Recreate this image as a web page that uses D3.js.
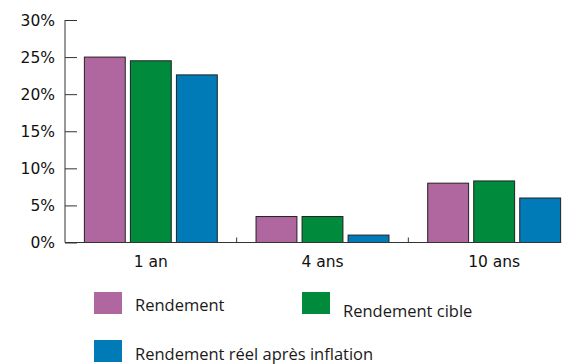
<!DOCTYPE html>
<html>
<head>
<meta charset="utf-8">
<script src="https://cdn.jsdelivr.net/npm/d3@7"></script>
<style>
  html, body { margin: 0; padding: 0; background: #fff; }
  svg { display: block; }
  .axis-label { font-family: "DejaVu Sans", sans-serif; font-size: 15.5px; fill: #111; }
  .legend-label { font-family: "Open Sans", "Noto Sans", sans-serif; font-size: 16.5px; fill: #1a1a1a; }
</style>
</head>
<body>
<svg id="chart" width="569" height="364"></svg>
<script>
// Horizons de placement et rendements (%)
const categories = ["1 an", "4 ans", "10 ans"];
const seriesNames = ["Rendement", "Rendement cible", "Rendement réel après inflation"];
const rendement = [25.0, 3.5, 8.0];
const rendementCible = [24.5, 3.5, 8.3];
const rendementReel = [22.6, 1.0, 6.0];
const seriesColors = ["#b0669e", "#008a3b", "#007bb8"];
const yTicks = [0, 5, 10, 15, 20, 25, 30];

const series = [rendement, rendementCible, rendementReel];

const svg = d3.select("#chart");
const x0 = 65, x1 = 580, yTop = 20, yBase = 242.5;

const x = d3.scaleBand().domain(categories).range([x0, x1]).paddingInner(0).paddingOuter(0);
const xs = d3.scaleBand().domain(d3.range(series.length)).range([0, x.bandwidth()])
  .paddingInner(0.09).paddingOuter(0.41);
const y = d3.scaleLinear().domain([0, 30]).range([yBase, yTop]);

const axisColor = "#333";

// Barres
categories.forEach((c, ci) => {
  series.forEach((s, si) => {
    svg.append("rect")
      .attr("x", x(c) + xs(si) + 0.5)
      .attr("y", y(s[ci]))
      .attr("width", xs.bandwidth() - 1)
      .attr("height", yBase - y(s[ci]))
      .attr("fill", seriesColors[si])
      .attr("stroke", "#222")
      .attr("stroke-width", 1);
  });
});

// Axe vertical
const yAxis = d3.axisRight(y).tickValues(yTicks).tickSize(12).tickFormat("");
const gy = svg.append("g").attr("transform", `translate(${x0},0)`).call(yAxis);
gy.select(".domain").remove();
gy.selectAll(".tick line").attr("stroke", axisColor);
svg.append("line").attr("x1", x0).attr("x2", x0).attr("y1", yTop).attr("y2", yBase)
  .attr("stroke", axisColor);

svg.selectAll(".ylab").data(yTicks).join("text")
  .attr("class", "ylab axis-label")
  .attr("x", 55).attr("y", d => y(d)).attr("dy", "0.36em")
  .attr("text-anchor", "end")
  .text(d => d + "%");

// Axe horizontal
svg.append("line").attr("x1", x0).attr("x2", x(categories[2]) + xs(2) + xs.bandwidth())
  .attr("y1", yBase).attr("y2", yBase).attr("stroke", axisColor);
categories.slice(1).forEach(c => {
  svg.append("line").attr("x1", x(c)).attr("x2", x(c))
    .attr("y1", yBase).attr("y2", yBase - 5).attr("stroke", axisColor);
});
svg.selectAll(".xlab").data(categories).join("text")
  .attr("class", "xlab axis-label")
  .attr("x", d => x(d) + x.bandwidth() / 2)
  .attr("y", 267)
  .attr("text-anchor", "middle")
  .text(d => d);

// Légende
const legendPos = [
  { sx: 94, sy: 292, tx: 135, ty: 310.5 },
  { sx: 302, sy: 292, tx: 343, ty: 316.5 },
  { sx: 94, sy: 340, tx: 135, ty: 359.5 }
];
seriesNames.forEach((n, i) => {
  const p = legendPos[i];
  svg.append("rect").attr("x", p.sx).attr("y", p.sy).attr("width", 28).attr("height", 22)
    .attr("fill", seriesColors[i]);
  svg.append("text").attr("class", "legend-label").attr("x", p.tx).attr("y", p.ty)
    .text(n);
});
</script>
</body>
</html>
